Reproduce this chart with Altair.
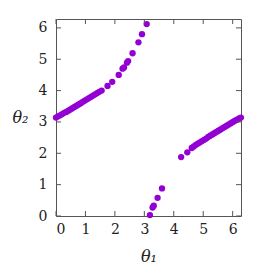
import altair as alt
import pandas as pd

# upper-left branch
ul_x = [0.00, 0.07, 0.14, 0.21, 0.28, 0.35, 0.42, 0.49, 0.56, 0.63, 0.70, 0.77,
        0.84, 0.91, 0.98, 1.05, 1.12, 1.19, 1.26, 1.33, 1.40, 1.47, 1.55,
        1.75, 1.91, 2.13, 2.26, 2.31, 2.41, 2.45, 2.60, 2.80, 2.92, 3.08]
ul_y = [3.14, 3.18, 3.21, 3.25, 3.29, 3.32, 3.36, 3.40, 3.44, 3.48, 3.52, 3.56,
        3.60, 3.64, 3.68, 3.72, 3.76, 3.80, 3.84, 3.88, 3.92, 3.96, 4.00,
        4.15, 4.28, 4.50, 4.70, 4.74, 4.89, 4.94, 5.19, 5.54, 5.80, 6.12]
# lower-middle branch
mid_x = [3.19, 3.28, 3.32, 3.45, 3.60]
mid_y = [0.03, 0.27, 0.33, 0.58, 0.88]
# right branch
rt_x = [4.25, 4.46, 4.61, 4.68, 4.75, 4.82, 4.89, 4.96, 5.03, 5.10, 5.17, 5.24,
        5.31, 5.38, 5.45, 5.52, 5.59, 5.66, 5.73, 5.80, 5.87, 5.94, 6.01, 6.08,
        6.15, 6.22, 6.28]
rt_y = [1.88, 2.03, 2.17, 2.22, 2.27, 2.31, 2.35, 2.39, 2.43, 2.47, 2.52, 2.56,
        2.60, 2.64, 2.68, 2.72, 2.76, 2.80, 2.84, 2.88, 2.92, 2.96, 3.00, 3.04,
        3.07, 3.11, 3.14]

tick_values = [0, 1, 2, 3, 4, 5, 6]

df = pd.DataFrame({"t1": ul_x + mid_x + rt_x, "t2": ul_y + mid_y + rt_y})
tdf = pd.DataFrame({"v": tick_values})

W, H = 185, 197
GRAY = "#555555"
FONT = "DejaVu Serif"

xs = alt.Scale(domain=[0, 6.2832], nice=False, zero=False)
ys = alt.Scale(domain=[0, 6.2832], nice=False, zero=False)

x_axis = alt.Axis(
    values=tick_values, ticks=False, domain=False, grid=False,
    labelFont=FONT, labelFontSize=14, labelColor="#222222", labelPadding=6,
    title="θ₁", titleFont=FONT, titleFontSize=16, titleFontStyle="italic",
    titleFontWeight="normal", titleColor="#222222", titleY=40,
    titleBaseline="middle")
y_axis = alt.Axis(
    values=tick_values, ticks=False, domain=False, grid=False,
    labelFont=FONT, labelFontSize=14, labelColor="#222222", labelPadding=9,
    title="θ₂", titleFont=FONT, titleFontSize=16, titleFontStyle="italic",
    titleFontWeight="normal", titleColor="#222222", titleAngle=0,
    titleX=-36, titleY=H / 2, titleAlign="center", titleBaseline="middle")

points = alt.Chart(df).mark_circle(size=40, color="#9400D3", opacity=1).encode(
    x=alt.X("t1:Q", scale=xs, axis=x_axis, title="θ₁"),
    y=alt.Y("t2:Q", scale=ys, axis=y_axis, title="θ₂"),
)

bt = alt.Chart(tdf).mark_rule(color=GRAY).encode(
    x=alt.X("v:Q", scale=xs, axis=x_axis, title="θ₁"), y=alt.value(H), y2=alt.value(H - 5))
tt = alt.Chart(tdf).mark_rule(color=GRAY).encode(
    x=alt.X("v:Q", scale=xs, axis=x_axis, title="θ₁"), y=alt.value(0), y2=alt.value(5))
lt = alt.Chart(tdf).mark_rule(color=GRAY).encode(
    y=alt.Y("v:Q", scale=ys, axis=y_axis, title="θ₂"), x=alt.value(0), x2=alt.value(5))
rtk = alt.Chart(tdf).mark_rule(color=GRAY).encode(
    y=alt.Y("v:Q", scale=ys, axis=y_axis, title="θ₂"), x=alt.value(W), x2=alt.value(W - 5))

chart = alt.layer(points, bt, tt, lt, rtk).properties(
    width=W, height=H, autosize="none",
    padding={"left": 48, "top": 11, "right": 26, "bottom": 51},
).configure_view(stroke=GRAY, strokeWidth=1)

chart.save("out.html", embed_options={"renderer": "svg", "actions": False})
